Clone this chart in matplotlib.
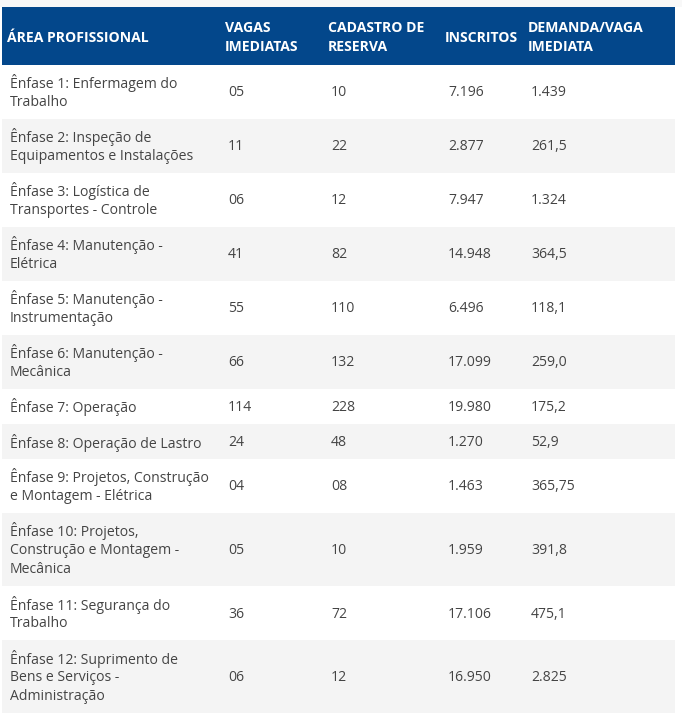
import matplotlib.pyplot as plt
from matplotlib.patches import Rectangle

plt.rcParams['font.family'] = ['Open Sans', 'DejaVu Sans']

headers = ["ÁREA PROFISSIONAL", "VAGAS\nIMEDIATAS", "CADASTRO DE\nRESERVA",
           "INSCRITOS", "DEMANDA/VAGA\nIMEDIATA"]

areas = [
    "Ênfase 1: Enfermagem do\nTrabalho",
    "Ênfase 2: Inspeção de\nEquipamentos e Instalações",
    "Ênfase 3: Logística de\nTransportes - Controle",
    "Ênfase 4: Manutenção -\nElétrica",
    "Ênfase 5: Manutenção -\nInstrumentação",
    "Ênfase 6: Manutenção -\nMecânica",
    "Ênfase 7: Operação",
    "Ênfase 8: Operação de Lastro",
    "Ênfase 9: Projetos, Construção\ne Montagem - Elétrica",
    "Ênfase 10: Projetos,\nConstrução e Montagem -\nMecânica",
    "Ênfase 11: Segurança do\nTrabalho",
    "Ênfase 12: Suprimento de\nBens e Serviços -\nAdministração",
]
vagas = ["05", "11", "06", "41", "55", "66", "114", "24", "04", "05", "36", "06"]
cadastro = ["10", "22", "12", "82", "110", "132", "228", "48", "08", "10", "72", "12"]
inscritos = ["7.196", "2.877", "7.947", "14.948", "6.496", "17.099", "19.980",
             "1.270", "1.463", "1.959", "17.106", "16.950"]
demanda = ["1.439", "261,5", "1.324", "364,5", "118,1", "259,0", "175,2",
           "52,9", "365,75", "391,8", "475,1", "2.825"]

W, H = 682, 715
fig = plt.figure(figsize=(W / 100, H / 100), dpi=100)
ax = fig.add_axes([0, 0, 1, 1])
ax.set_xlim(0, W)
ax.set_ylim(H, 0)
ax.axis("off")

col_x = [7, 225, 328, 445, 528]
left, right = 2, 675
line_h = 19
pad = 16
header_top, header_h = 7, 58

ax.add_patch(Rectangle((0, 0), W, header_top, color="#f8f8f8", lw=0))
ax.add_patch(Rectangle((left, header_top), right - left, header_h, color="#03478b", lw=0))

hc = header_top + header_h / 2
for x, txt in zip(col_x, headers):
    lines = txt.split("\n")
    n = len(lines)
    for i, ln in enumerate(lines):
        ax.text(x, hc + (i - (n - 1) / 2) * line_h, ln, color="white",
                fontsize=10.1, fontweight="bold", va="center_baseline", ha="left")

y = header_top + header_h
for r, row in enumerate(zip(areas, vagas, cadastro, inscritos, demanda)):
    n = max(len(c.split("\n")) for c in row)
    rh = pad + line_h * n
    if r % 2 == 1:
        ax.add_patch(Rectangle((left, y), right - left, rh, color="#f4f4f4", lw=0))
    cy = y + rh / 2 - 1
    for x, txt in zip(col_x, row):
        lines = txt.split("\n")
        k = len(lines)
        for i, ln in enumerate(lines):
            ax.text(x + 3, cy + (i - (k - 1) / 2) * line_h, ln, color="#444444",
                    fontsize=10.1, va="center_baseline", ha="left")
    y += rh

fig.savefig("out.png", dpi=100)
